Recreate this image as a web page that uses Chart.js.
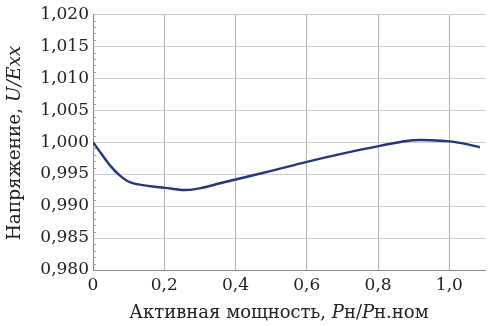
<!DOCTYPE html>
<html>
<head>
<meta charset="utf-8">
<script src="https://cdn.jsdelivr.net/npm/chart.js@4"></script>
<style>
  html, body { margin: 0; padding: 0; background: #fff; }
  #wrap { width: 493px; height: 326px; position: relative; }
</style>
</head>
<body>
<div id="wrap"><canvas id="chart"></canvas></div>
<script>
/* Кривая напряжения от активной мощности */
const P_NAGR = [0, 0.022, 0.05, 0.079, 0.107, 0.154, 0.202, 0.258, 0.303, 0.359, 0.4, 0.5, 0.6, 0.7, 0.805, 0.898, 0.993, 1.038, 1.086];
const U_OTN = [1.000, 0.9983, 0.9962, 0.9946, 0.99365, 0.99315, 0.99285, 0.9925, 0.9928, 0.9936, 0.99415, 0.9955, 0.99692, 0.9982, 0.9994, 1.0003, 1.00015, 0.9998, 0.9992];

const X_TICKS = [0, 0.2, 0.4, 0.6, 0.8, 1.0];
const Y_MIN = 0.980, Y_MAX = 1.020, Y_STEP = 0.005, Y_MINOR = 0.001;

const SERIF = "'DejaVu Serif', serif";

function fmt(v, d) {
    return v.toFixed(d).replace(".", ",");
}

// подписи осей с курсивом
const Y_TITLE = [["Напряжение, ", false], ["U/Exx", true]];
const X_TITLE = [["Активная мощность, ", false], ["P", true], ["н/", false], ["P", true], ["н.ном", false]];

function drawRich(ctx, parts, size) {
    let w = 0;
    for (const [t, it] of parts) {
        ctx.font = (it ? "italic " : "") + size + "px " + SERIF;
        w += ctx.measureText(t).width;
    }
    let x = -w / 2;
    for (const [t, it] of parts) {
        ctx.font = (it ? "italic " : "") + size + "px " + SERIF;
        ctx.fillText(t, x, 0);
        x += ctx.measureText(t).width;
    }
}

const extras = {
    id: "extras",
    afterDraw(chart) {
        const ctx = chart.ctx;
        const ys = chart.scales.y;
        const area = chart.chartArea;

        // мелкие засечки по оси Y
        ctx.save();
        ctx.strokeStyle = "#9a9a9a";
        ctx.lineWidth = 1;
        const n = Math.round((Y_MAX - Y_MIN) / Y_MINOR);
        for (let i = 1; i < n; i++) {
            if (i % 5 === 0) continue;
            const py = Math.round(ys.getPixelForValue(Y_MIN + i * Y_MINOR)) + 0.5;
            ctx.beginPath();
            ctx.moveTo(area.left, py);
            ctx.lineTo(area.left + 3, py);
            ctx.stroke();
        }
        ctx.restore();

        // подписи осей
        ctx.save();
        ctx.fillStyle = "#222";
        ctx.textBaseline = "middle";
        ctx.translate(15, 143);
        ctx.rotate(-Math.PI / 2);
        drawRich(ctx, Y_TITLE, 18.5);
        ctx.restore();

        ctx.save();
        ctx.fillStyle = "#222";
        ctx.textBaseline = "middle";
        ctx.translate(279, 313);
        drawRich(ctx, X_TITLE, 18);
        ctx.restore();
    }
};

new Chart(document.getElementById("chart"), {
    type: "line",
    data: {
        datasets: [{
            data: P_NAGR.map((x, i) => ({ x, y: U_OTN[i] })),
            borderColor: "#27347f",
            borderWidth: 2.4,
            pointRadius: 0,
            fill: false,
            tension: 0.35
        }]
    },
    options: {
        responsive: true,
        maintainAspectRatio: false,
        animation: false,
        layout: { padding: { top: 10, right: 8, left: 0, bottom: 0 } },
        plugins: { legend: { display: false }, tooltip: { enabled: false } },
        scales: {
            x: {
                type: "linear",
                min: 0,
                max: 1.1,
                afterFit(s) { s.height = 56; },
                afterBuildTicks(s) { s.ticks = X_TICKS.map(v => ({ value: v })); },
                ticks: {
                    padding: 5,
                    color: "#222",
                    font: { family: SERIF, size: 17 },
                    callback: v => (v === 0 ? "0" : fmt(v, 1))
                },
                grid: { color: "#b0b0b0", drawTicks: false, lineWidth: 1 },
                border: { color: "#8a8a8a" }
            },
            y: {
                min: Y_MIN,
                max: Y_MAX,
                afterFit(s) { s.width = 93; },
                afterBuildTicks(s) {
                    const t = [];
                    for (let i = 0; i <= 8; i++) t.push({ value: Y_MIN + i * Y_STEP });
                    s.ticks = t;
                },
                ticks: {
                    padding: 4,
                    color: "#222",
                    font: { family: SERIF, size: 17 },
                    callback: v => fmt(v, 3)
                },
                grid: { color: "#cccccc", drawTicks: false, lineWidth: 1 },
                border: { color: "#8a8a8a" }
            }
        }
    },
    plugins: [extras]
});
</script>
</body>
</html>
